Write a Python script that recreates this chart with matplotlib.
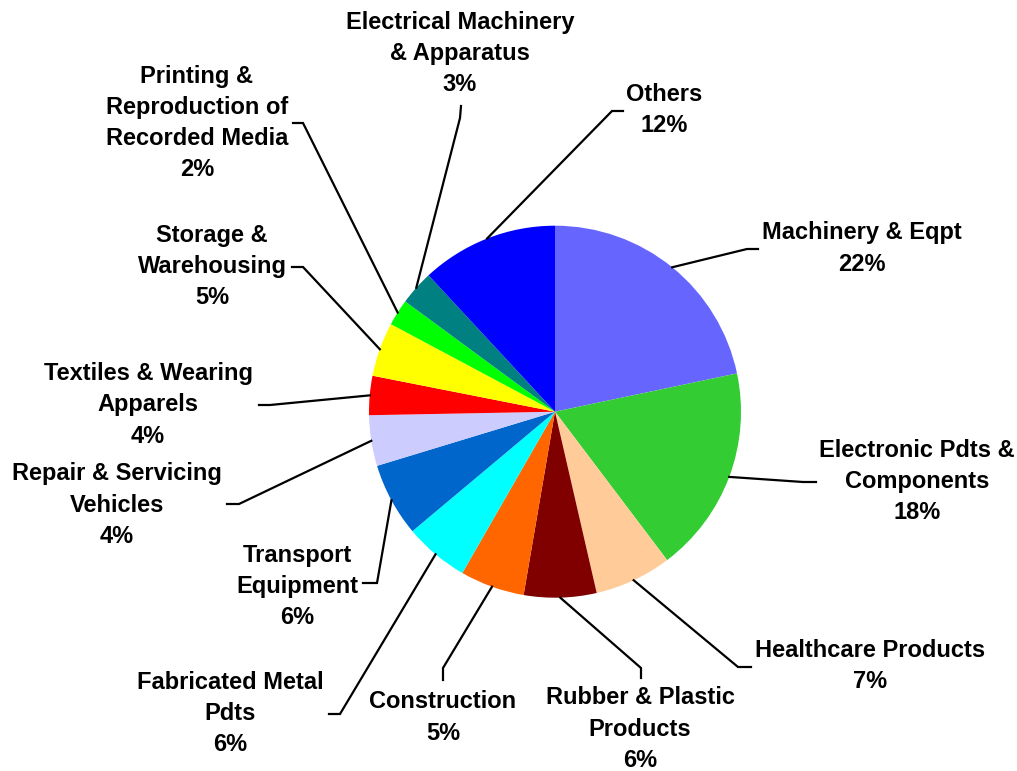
import numpy as np
import matplotlib.pyplot as plt

# =========================
# Data (clockwise from 12 o'clock)
# =========================

sectors = [
    "Machinery & Eqpt",
    "Electronic Pdts &\nComponents",
    "Healthcare Products",
    "Rubber & Plastic\nProducts",
    "Construction",
    "Fabricated Metal\nPdts",
    "Transport\nEquipment",
    "Repair & Servicing\nVehicles",
    "Textiles & Wearing\nApparels",
    "Storage &\nWarehousing",
    "Printing &\nReproduction of\nRecorded Media",
    "Electrical Machinery\n& Apparatus",
    "Others",
]

shares = [21.7, 18.0, 6.7, 6.3, 5.6, 5.6, 6.4, 4.4, 3.4, 4.7, 2.3, 3.0, 11.9]

pct_labels = ["22%", "18%", "7%", "6%", "5%", "6%", "6%", "4%", "4%", "5%", "2%", "3%", "12%"]

colors = [
    "#6666FF", "#33CC33", "#FFCC99", "#800000", "#FF6600", "#00FFFF", "#0066CC",
    "#CCCCFF", "#FF0000", "#FFFF00", "#00FF00", "#008080", "#0000FF",
]

# =========================
# Layout (pixel coords, y down)
# =========================

W, H = 1017, 771
cx, cy, R = 555, 411.7, 186

# label block centre, elbow point, end point of leader
label_pos = [
    (862, 248.5), (917, 481.7), (870, 666), (640, 729), (443, 717.5),
    (230, 713.5), (297, 586.7), (117, 505), (148, 405), (212, 266.7),
    (197, 123), (460, 53.5), (664, 110),
]
elbows = [
    (747, 249), (803, 482), (738, 667), (641, 668), (443, 668),
    (340, 714), (377, 583), (239, 504), (270, 405), (303, 267),
    (303, 123), (460, 118), (612, 111),
]
ends = [
    (758, 249), (816, 482), (751, 667), (641, 678), (443, 680),
    (329, 714), (363, 583), (227, 504), (259, 405), (292, 267),
    (293, 123), (461, 106), (623, 111),
]

# =========================
# Plot
# =========================

fig = plt.figure(figsize=(W / 100, H / 100), dpi=100)
ax = fig.add_axes([0, 0, 1, 1])

wedges, _ = ax.pie(
    shares,
    colors=colors,
    startangle=90,
    counterclock=False,
    radius=R,
    center=(cx, H - cy),
    wedgeprops=dict(linewidth=0),
    frame=True,
)
ax.set_xlim(0, W)
ax.set_ylim(0, H)
ax.set_aspect("equal")
ax.axis("off")

for i, w in enumerate(wedges):
    mid = np.deg2rad((w.theta1 + w.theta2) / 2)
    x0 = cx + R * np.cos(mid)
    y0 = (H - cy) + R * np.sin(mid)
    ex, ey = elbows[i]
    nx, ny = ends[i]
    ax.plot([x0, ex, nx], [y0, H - ey, H - ny], color="black", lw=1.6,
            solid_joinstyle="miter")
    tx, ty = label_pos[i]
    ax.text(tx, H - ty, sectors[i] + "\n" + pct_labels[i],
            ha="center", va="center", multialignment="center",
            fontsize=17, fontweight="bold", family="Liberation Sans",
            linespacing=1.46)

plt.savefig("out.png", dpi=100)
